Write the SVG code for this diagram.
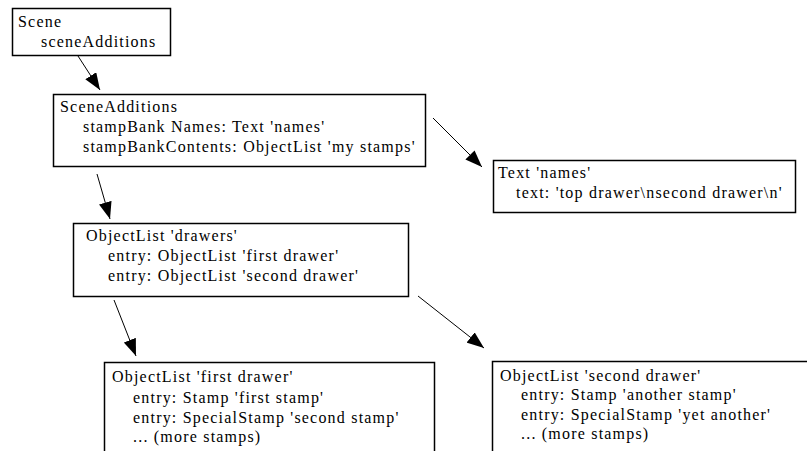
<svg xmlns="http://www.w3.org/2000/svg" width="807" height="451" viewBox="0 0 807 451">
  <style>
    .box { fill: #ffffff; stroke: #000000; stroke-width: 1.5; }
    .lbl { font-family: "Liberation Serif", "Times New Roman", serif; font-size: 16px; letter-spacing: 1.2px; fill: #000000; }
    .edge { fill: none; stroke: #000000; stroke-width: 1; marker-end: url(#head); }
  </style>
  <defs>
    <marker id="head" markerUnits="userSpaceOnUse" markerWidth="17" markerHeight="13" refX="17" refY="6.5" orient="auto">
      <path d="M0,0 L17,6.5 L0,13 z" fill="#000000"/>
    </marker>
  </defs>
  <rect width="807" height="451" fill="#ffffff"/>

  <g id="connectors">
    <path class="edge" d="M78,56 L100,90"/>
    <path class="edge" d="M433,118 L482,167"/>
    <path class="edge" d="M97,174 L110,219"/>
    <path class="edge" d="M114,300 L136,356"/>
    <path class="edge" d="M418,296 L484,348"/>
  </g>

  <g id="scene">
    <rect class="box" x="12.5" y="8.5" width="158" height="47"/>
    <text class="lbl" x="18" y="27">Scene</text>
    <text class="lbl" x="41" y="47">sceneAdditions</text>
  </g>

  <g id="scene-additions">
    <rect class="box" x="53.5" y="94.5" width="372" height="72"/>
    <text class="lbl" x="60" y="112">SceneAdditions</text>
    <text class="lbl" x="83" y="132">stampBank Names: Text 'names'</text>
    <text class="lbl" x="83" y="152">stampBankContents: ObjectList 'my stamps'</text>
  </g>

  <g id="text-names">
    <rect class="box" x="493.5" y="160.5" width="302" height="52"/>
    <text class="lbl" x="498" y="178">Text 'names'</text>
    <text class="lbl" x="516" y="198">text: 'top drawer\nsecond drawer\n'</text>
  </g>

  <g id="drawers">
    <rect class="box" x="73.5" y="223.5" width="335" height="73"/>
    <text class="lbl" x="86" y="241">ObjectList 'drawers'</text>
    <text class="lbl" x="108" y="261">entry: ObjectList 'first drawer'</text>
    <text class="lbl" x="108" y="281">entry: ObjectList 'second drawer'</text>
  </g>

  <g id="first-drawer">
    <rect class="box" x="104.5" y="362.5" width="330" height="100"/>
    <text class="lbl" x="112" y="382">ObjectList 'first drawer'</text>
    <text class="lbl" x="133" y="403">entry: Stamp 'first stamp'</text>
    <text class="lbl" x="133" y="423">entry: SpecialStamp 'second stamp'</text>
    <text class="lbl" x="133" y="442">... (more stamps)</text>
  </g>

  <g id="second-drawer">
    <rect class="box" x="492.5" y="361.5" width="330" height="100"/>
    <text class="lbl" x="500" y="381">ObjectList 'second drawer'</text>
    <text class="lbl" x="521" y="400">entry: Stamp 'another stamp'</text>
    <text class="lbl" x="521" y="420">entry: SpecialStamp 'yet another'</text>
    <text class="lbl" x="521" y="439">... (more stamps)</text>
  </g>
</svg>
